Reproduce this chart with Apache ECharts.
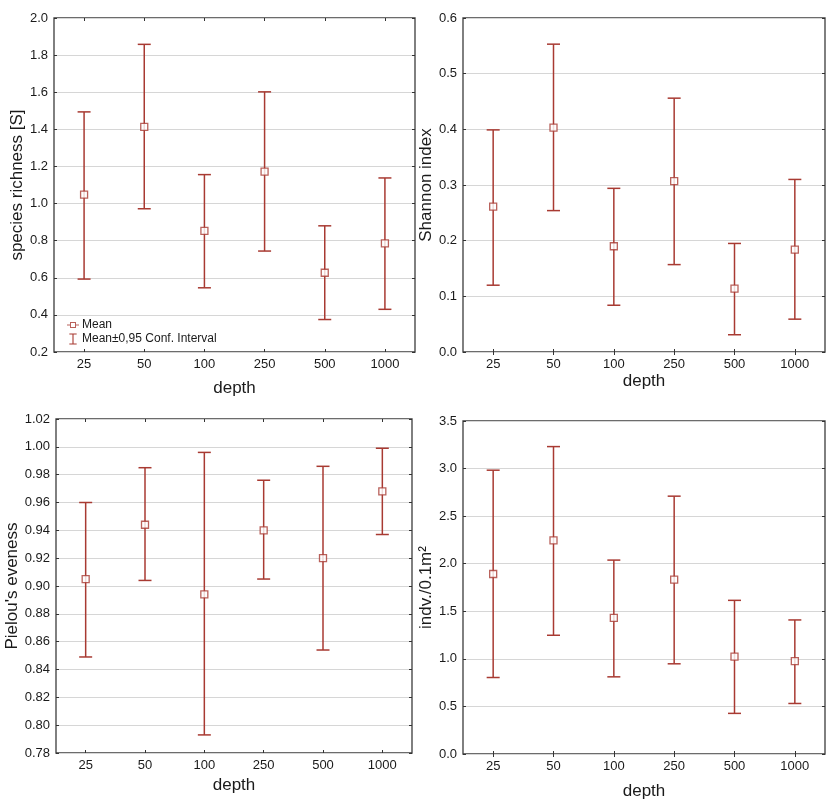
<!DOCTYPE html>
<html>
<head>
<meta charset="utf-8">
<script src="https://cdn.jsdelivr.net/npm/echarts@6/dist/echarts.min.js"></script>
<style>
html,body{margin:0;padding:0;background:#fff;}
#main{width:829px;height:808px;}
</style>
</head>
<body>
<div id="main"></div>
<script>
// depth categories
var depths = ['25', '50', '100', '250', '500', '1000'];

// species richness [S]
var richMean = [1.048, 1.413, 0.853, 1.172, 0.627, 0.785];
var richLow  = [0.593, 0.972, 0.546, 0.744, 0.375, 0.430];
var richHigh = [1.494, 1.858, 1.156, 1.602, 0.880, 1.138];

// Shannon index
var shanMean = [0.261, 0.403, 0.190, 0.307, 0.114, 0.184];
var shanLow  = [0.120, 0.254, 0.084, 0.157, 0.031, 0.059];
var shanHigh = [0.399, 0.553, 0.294, 0.456, 0.195, 0.310];

// Pielou's eveness
var pielMean = [0.905, 0.944, 0.894, 0.940, 0.920, 0.968];
var pielLow  = [0.849, 0.904, 0.793, 0.905, 0.854, 0.937];
var pielHigh = [0.960, 0.985, 0.996, 0.976, 0.986, 0.999];

// indv./0.1m2
var densMean = [1.892, 2.245, 1.430, 1.832, 1.024, 0.976];
var densLow  = [0.804, 1.248, 0.811, 0.948, 0.427, 0.531];
var densHigh = [2.983, 3.231, 2.038, 2.710, 1.615, 1.409];

var C = '#a83a32';
var FONT = 'Liberation Sans';

// panels: grid box, y range, names
var panels = [
  {grid: {left: 54, top: 18, width: 361, height: 334}, min: 0.2, max: 2.0, step: 0.2, dec: 1,
   yName: 'species richness [S]', yGap: 27, xGap: 28, mean: richMean, low: richLow, high: richHigh},
  {grid: {left: 463, top: 18, width: 362, height: 334}, min: 0, max: 0.6, step: 0.1, dec: 1,
   yName: 'Shannon index', yGap: 24, xGap: 21, mean: shanMean, low: shanLow, high: shanHigh},
  {grid: {left: 56, top: 419, width: 356, height: 334}, min: 0.78, max: 1.02, step: 0.02, dec: 2,
   yName: "Pielou's eveness", yGap: 31, xGap: 24, mean: pielMean, low: pielLow, high: pielHigh},
  {grid: {left: 463, top: 421, width: 362, height: 333}, min: 0, max: 3.5, step: 0.5, dec: 1,
   yName: 'indv./0.1m²', yGap: 22, xGap: 29, mean: densMean, low: densLow, high: densHigh}
];

var grids = [], xAxes = [], yAxes = [], series = [];

function errItem(params, api) {
  var i = api.value(0);
  var lo = api.coord([i, api.value(1)]);
  var hi = api.coord([i, api.value(2)]);
  var w = 6.5;
  var st = {stroke: C, lineWidth: 1.5};
  return {type: 'group', children: [
    {type: 'line', shape: {x1: lo[0], y1: lo[1], x2: hi[0], y2: hi[1]}, style: st},
    {type: 'line', shape: {x1: lo[0] - w, y1: lo[1], x2: lo[0] + w, y2: lo[1]}, style: st},
    {type: 'line', shape: {x1: hi[0] - w, y1: hi[1], x2: hi[0] + w, y2: hi[1]}, style: st}
  ]};
}

panels.forEach(function (p, k) {
  grids.push(Object.assign({show: true, borderColor: '#3c3c3c', borderWidth: 1.3, backgroundColor: '#fff'}, p.grid));
  // bottom category axis
  xAxes.push({
    type: 'category', gridIndex: k, data: depths, boundaryGap: true,
    name: 'depth', nameLocation: 'middle', nameGap: p.xGap,
    nameTextStyle: {fontFamily: FONT, fontSize: 17, color: '#1a1a1a'},
    axisLine: {show: false},
    axisTick: {show: true, inside: true, alignWithLabel: true, length: 3, lineStyle: {color: '#333'}},
    axisLabel: {fontFamily: FONT, fontSize: 13, color: '#1a1a1a', margin: 6}
  });
  // top axis, ticks only
  xAxes.push({
    type: 'category', gridIndex: k, data: depths, position: 'top', boundaryGap: true,
    axisLine: {show: false}, axisLabel: {show: false},
    axisTick: {show: true, inside: true, alignWithLabel: true, length: 3, lineStyle: {color: '#333'}}
  });
  var dec = p.dec;
  yAxes.push({
    type: 'value', gridIndex: k, min: p.min, max: p.max, interval: p.step,
    name: p.yName, nameLocation: 'middle', nameGap: p.yGap, nameRotate: 90,
    nameTextStyle: {fontFamily: FONT, fontSize: 17, color: '#1a1a1a'},
    axisLine: {show: false},
    axisTick: {show: true, inside: true, length: 3, lineStyle: {color: '#333'}},
    axisLabel: {fontFamily: FONT, fontSize: 13, color: '#1a1a1a', margin: 6,
      formatter: function (v) { return v.toFixed(dec); }},
    splitLine: {show: true, lineStyle: {color: '#d6d6d6', width: 1}}
  });
  yAxes.push({
    type: 'value', gridIndex: k, min: p.min, max: p.max, interval: p.step, position: 'right',
    axisLine: {show: false}, axisLabel: {show: false}, splitLine: {show: false},
    axisTick: {show: true, inside: true, length: 3, lineStyle: {color: '#333'}}
  });

  var errData = depths.map(function (d, i) { return [i, p.low[i], p.high[i]]; });
  var meanData = depths.map(function (d, i) { return [i, p.mean[i]]; });
  series.push({
    type: 'custom', name: k === 0 ? 'Mean±0,95 Conf. Interval' : 'ci' + k,
    xAxisIndex: 2 * k, yAxisIndex: 2 * k, data: errData, renderItem: errItem,
    itemStyle: {color: C}, encode: {x: 0, y: [1, 2]}, z: 2
  });
  series.push({
    type: 'scatter', name: k === 0 ? 'Mean' : 'mean' + k,
    xAxisIndex: 2 * k, yAxisIndex: 2 * k, data: meanData,
    symbol: 'rect', symbolSize: 7,
    itemStyle: {color: '#fff', borderColor: C, borderWidth: 1.3}, z: 3
  });
});

var chart = echarts.init(document.getElementById('main'));
chart.setOption({
  backgroundColor: '#fff',
  animation: false,
  grid: grids,
  xAxis: xAxes,
  yAxis: yAxes,
  legend: {
    orient: 'vertical', left: 62, top: 314, itemGap: 2, itemWidth: 12, itemHeight: 11,
    textStyle: {fontFamily: FONT, fontSize: 12, color: '#1a1a1a', padding: [0, 0, 0, -2]},
    data: [
      {name: 'Mean', icon: 'path://M0,4.5H3V2H9V8H3V5.5H0Z M4,3V7H8V3Z M9,4.5H12V5.5H9Z', itemStyle: {color: C, borderWidth: 0}},
      {name: 'Mean±0,95 Conf. Interval', icon: 'path://M0,0H8V1H4.6V11H8V12H0V11H3.4V1H0Z', itemStyle: {color: C, borderWidth: 0}}
    ]
  },
  series: series
});
</script>
</body>
</html>
